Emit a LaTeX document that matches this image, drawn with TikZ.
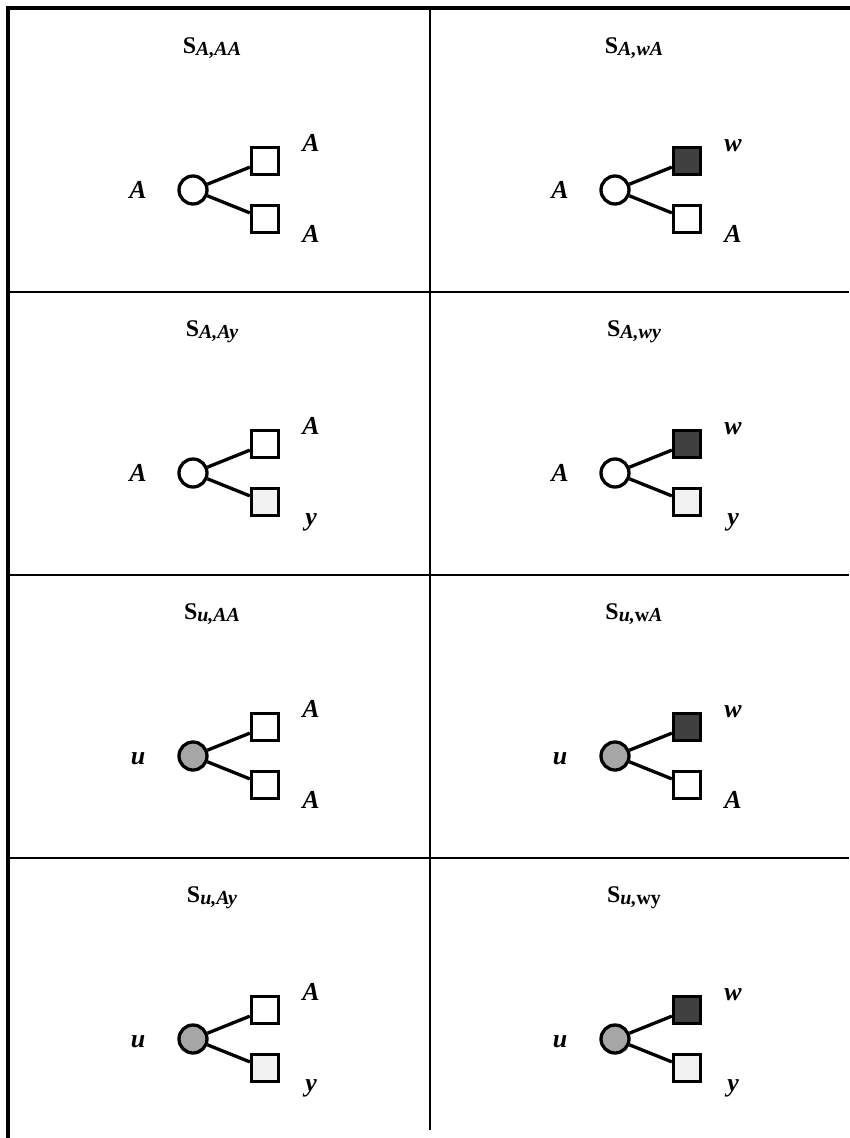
\documentclass[tikz,border=0pt]{standalone}
\usepackage{fontspec}
\setmainfont{Liberation Serif}
\definecolor{darkfill}{HTML}{404040}
\definecolor{lightfill}{HTML}{F2F2F2}
\definecolor{ufill}{HTML}{A6A6A6}
\tikzset{
  gridline/.style={line width=2bp},
  borderline/.style={line width=4bp},
  circnode/.style={circle, draw, line width=3.3bp, minimum size=28bp, inner sep=0pt},
  circA/.style={circnode, fill=white},
  circU/.style={circnode, fill=ufill},
  sqnode/.style={rectangle, draw, line width=3.3bp, minimum size=27bp, inner sep=0pt},
  sqW/.style={sqnode, fill=white},
  sqD/.style={sqnode, fill=darkfill},
  sqL/.style={sqnode, fill=lightfill},
  conn/.style={line width=3.3bp},
  lbl/.style={font=\fontsize{26}{26}\selectfont\bfseries\itshape, inner sep=0pt, anchor=base},
  ttl/.style={font=\fontsize{24}{24}\selectfont\bfseries, inner sep=0pt, anchor=base},
}
\newcommand{\subtx}[1]{\raisebox{-2bp}{\fontsize{20}{20}\selectfont #1}}
% #1 id, #2 shift, #3 title, #4 left label, #5 circle style, #6 upper style, #7 upper label, #8 lower style, #9 lower label
\newcommand{\drawcell}[9]{%
  \begin{scope}[shift={#2}]
    \node[ttl] (#1t) at (212,53) {S\subtx{#3}};
    \node[lbl] (#1l) at (138,198) {#4};
    \node[#5] (#1c) at (193,190) {};
    \node[#6] (#1u) at (265,161) {};
    \node[#8] (#1d) at (265,219) {};
    \node[lbl] (#1ul) at (311,151) {#7};
    \node[lbl] (#1dl) at (311,242) {#9};
    \draw[conn] (#1c) -- (#1u.202);
    \draw[conn] (#1c) -- (#1d.158);
  \end{scope}}
\begin{document}
\begin{tikzpicture}[x=1bp,y=-1bp]
\useasboundingbox (0,0) rectangle (850,1138);
% grid
\coordinate (tl) at (8,8);
\coordinate (tr) at (850,8);
\coordinate (bl) at (8,1138);
\coordinate (mt) at (430,8);
\coordinate (mb) at (430,1130);
\coordinate (h1l) at (8,292);
\coordinate (h1r) at (849,292);
\coordinate (h2l) at (8,575);
\coordinate (h2r) at (849,575);
\coordinate (h3l) at (8,858);
\coordinate (h3r) at (849,858);
\draw[gridline] (mt) -- (mb);
\draw[gridline] (h1l) -- (h1r);
\draw[gridline] (h2l) -- (h2r);
\draw[gridline] (h3l) -- (h3r);
\draw[borderline] (tr) -- (tl) -- (bl);
% cells
\drawcell{a}{(0,0)}{\itshape A,AA}{A}{circA}{sqW}{A}{sqW}{A}
\drawcell{b}{(422,0)}{\itshape A,wA}{A}{circA}{sqD}{w}{sqW}{A}
\drawcell{c}{(0,283)}{\itshape A,Ay}{A}{circA}{sqW}{A}{sqL}{y}
\drawcell{d}{(422,283)}{\itshape A,wy}{A}{circA}{sqD}{w}{sqL}{y}
\drawcell{e}{(0,566)}{\itshape u,AA}{u}{circU}{sqW}{A}{sqW}{A}
\drawcell{f}{(422,566)}{{\itshape u,}{\upshape w}{\itshape A}}{u}{circU}{sqD}{w}{sqW}{A}
\drawcell{g}{(0,849)}{\itshape u,Ay}{u}{circU}{sqW}{A}{sqL}{y}
\drawcell{h}{(422,849)}{{\itshape u,}{\upshape wy}}{u}{circU}{sqD}{w}{sqL}{y}
\end{tikzpicture}
\end{document}
